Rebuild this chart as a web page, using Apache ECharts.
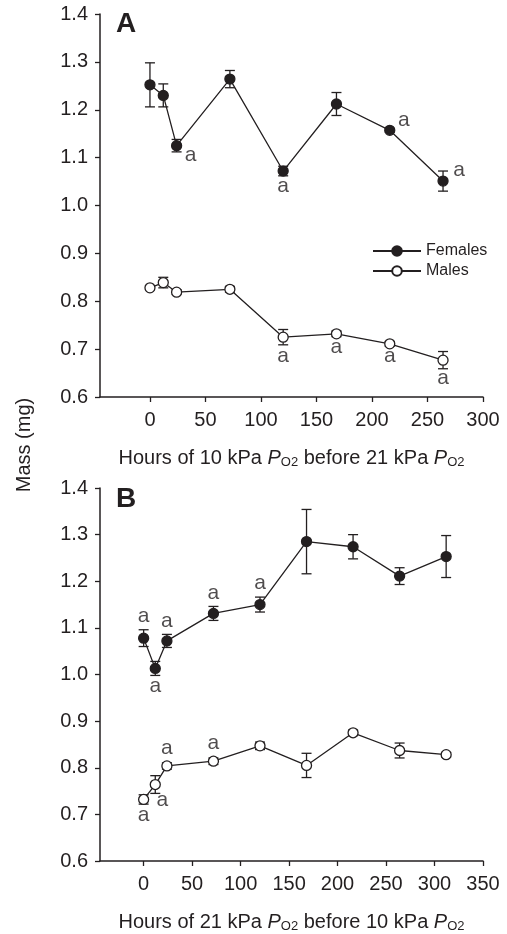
<!DOCTYPE html>
<html>
<head>
<meta charset="utf-8">
<script src="https://cdn.jsdelivr.net/npm/echarts@6/dist/echarts.min.js"></script>
<style>
  html, body { margin: 0; padding: 0; background: #fff; }
  #chart { width: 507px; height: 934px; }
</style>
</head>
<body>
<div id="chart"></div>
<script>
// panel A: hours of 10 kPa before 21 kPa
var hoursA = [0, 12, 24, 72, 120, 168, 216, 264];
var femalesA = [1.252, 1.230, 1.125, 1.264, 1.072, 1.212, 1.157, 1.051];
var femalesAErr = [0.046, 0.024, 0.013, 0.018, 0.010, 0.024, 0.004, 0.021];
var malesA = [0.828, 0.839, 0.819, 0.825, 0.725, 0.732, 0.711, 0.677];
var malesAErr = [0.004, 0.011, 0.005, 0.006, 0.016, 0.006, 0.005, 0.018];
var femalesASig = [0, 0, 1, 0, 1, 0, 1, 1];
var malesASig = [0, 0, 0, 0, 1, 1, 1, 1];

// panel B: hours of 21 kPa before 10 kPa
var hoursB = [0, 12, 24, 72, 120, 168, 216, 264, 312];
var femalesB = [1.078, 1.013, 1.072, 1.131, 1.150, 1.285, 1.274, 1.211, 1.253];
var femalesBErr = [0.018, 0.015, 0.014, 0.015, 0.016, 0.069, 0.026, 0.018, 0.045];
var malesB = [0.732, 0.764, 0.804, 0.814, 0.847, 0.805, 0.875, 0.837, 0.828];
var malesBErr = [0.010, 0.019, 0.007, 0.007, 0.008, 0.026, 0.006, 0.016, 0.005];
var femalesBSig = [1, 1, 1, 1, 1, 0, 0, 0, 0];
var malesBSig = [1, 1, 1, 1, 0, 0, 0, 0, 0];

var yTicks = [0.6, 0.7, 0.8, 0.9, 1.0, 1.1, 1.2, 1.3, 1.4];
var xTicksA = [0, 50, 100, 150, 200, 250, 300];
var xTicksB = [0, 50, 100, 150, 200, 250, 300, 350];

// where each "a" sits relative to its point (px)
var offFA = [null, null, [14, 10], null, [0, 15], null, [14, -10], [16, -11]];
var offMA = [null, null, null, null, [0, 19], [0, 13], [0, 12], [0, 18]];
var offFB = [[0, -22], [0, 18], [0, -20], [0, -20], [0, -21], null, null, null, null];
var offMB = [[0, 16], [7, 16], [0, -18], [0, -18], null, null, null, null, null];

var ink = "#231f20";
var font = "Liberation Sans, Arial, Helvetica, sans-serif";

var chart = echarts.init(document.getElementById("chart"));

function pairs(xs, ys) {
  return xs.map(function (x, i) { return [x, ys[i]]; });
}
function errData(xs, ys, es) {
  return xs.map(function (x, i) { return [x, ys[i], es[i]]; });
}
function sigData(xs, ys, sig, off) {
  var out = [];
  xs.forEach(function (x, i) {
    if (sig[i]) {
      out.push({ value: [x, ys[i]], label: { offset: off[i] } });
    }
  });
  return out;
}

function renderErr(params, api) {
  var x = api.value(0), y = api.value(1), e = api.value(2);
  var top = api.coord([x, y + e]);
  var bot = api.coord([x, y - e]);
  var w = 5;
  var st = { stroke: ink, lineWidth: 1.3 };
  return {
    type: "group",
    children: [
      { type: "line", shape: { x1: top[0], y1: top[1], x2: bot[0], y2: bot[1] }, style: st },
      { type: "line", shape: { x1: top[0] - w, y1: top[1], x2: top[0] + w, y2: top[1] }, style: st },
      { type: "line", shape: { x1: bot[0] - w, y1: bot[1], x2: bot[0] + w, y2: bot[1] }, style: st },
    ],
  };
}

function xAxisOf(idx, max, ticks, title) {
  return {
    type: "value",
    gridIndex: idx,
    min: -45,
    max: max,
    splitLine: { show: false },
    axisLine: { onZero: false, lineStyle: { color: ink, width: 1.5 } },
    axisTick: { customValues: ticks, length: 5, lineStyle: { color: ink, width: 1.3 } },
    axisLabel: { customValues: ticks, margin: 13, color: ink, fontSize: 20, fontFamily: font },
    name: title,
    nameLocation: "middle",
    nameGap: 50,
    nameTextStyle: {
      color: ink,
      fontSize: 20,
      fontFamily: font,
      rich: {
        i: { fontStyle: "italic", fontSize: 20, fontFamily: font, color: ink },
        s: { fontSize: 13, fontFamily: font, color: ink, padding: [9, 0, 0, 0] },
      },
    },
  };
}

function yAxisOf(idx) {
  return {
    type: "value",
    gridIndex: idx,
    min: 0.6,
    max: 1.4,
    interval: 0.1,
    splitLine: { show: false },
    axisLine: { show: true, onZero: false, lineStyle: { color: ink, width: 1.5 } },
    axisTick: { show: true, length: 5, lineStyle: { color: ink, width: 1.3 } },
    axisLabel: {
      margin: 12,
      color: ink,
      fontSize: 20,
      fontFamily: font,
      formatter: function (v) { return v.toFixed(1); },
    },
  };
}

function lineSeries(name, idx, data, filled) {
  return {
    name: name,
    type: "line",
    xAxisIndex: idx,
    yAxisIndex: idx,
    data: data,
    symbol: "circle",
    symbolSize: 10,
    showSymbol: true,
    z: 5,
    lineStyle: { color: ink, width: 1.3 },
    itemStyle: { color: filled ? ink : "#fff", borderColor: ink, borderWidth: 1.3 },
    emphasis: { disabled: true },
  };
}

function errSeries(idx, data) {
  return {
    type: "custom",
    xAxisIndex: idx,
    yAxisIndex: idx,
    renderItem: renderErr,
    encode: { x: 0, y: 1 },
    data: data,
    z: 3,
    silent: true,
  };
}

function sigSeries(idx, data) {
  return {
    type: "scatter",
    xAxisIndex: idx,
    yAxisIndex: idx,
    data: data,
    symbolSize: 1,
    itemStyle: { color: "rgba(0,0,0,0)" },
    z: 6,
    silent: true,
    label: {
      show: true,
      position: "inside",
      formatter: "a",
      color: ink,
      fontSize: 21,
      fontFamily: font,
    },
  };
}

var option = {
  animation: false,
  backgroundColor: "#fff",
  textStyle: { fontFamily: font, color: ink },
  grid: [
    { left: 100, top: 14, width: 383, height: 383 },
    { left: 100, top: 488, width: 383, height: 383 },
  ],
  xAxis: [
    xAxisOf(0, 300, xTicksA, "Hours of 10 kPa {i|P}{s|O2} before 21 kPa {i|P}{s|O2}"),
    xAxisOf(1, 350, xTicksB, "Hours of 21 kPa {i|P}{s|O2} before 10 kPa {i|P}{s|O2}"),
  ],
  yAxis: [yAxisOf(0), yAxisOf(1)],
  legend: {
    data: ["Females", "Males"],
    orient: "vertical",
    left: 367,
    top: 238,
    itemWidth: 48,
    itemHeight: 12,
    itemGap: 4,
    textStyle: { color: ink, fontSize: 16, fontFamily: font },
    selectedMode: false,
  },
  graphic: [
    {
      type: "text",
      left: 116,
      top: 10,
      style: { text: "A", font: "bold 28px " + font, fill: ink },
    },
    {
      type: "text",
      left: 116,
      top: 485,
      style: { text: "B", font: "bold 28px " + font, fill: ink },
    },
    {
      type: "text",
      x: 24,
      y: 445,
      rotation: Math.PI / 2,
      style: {
        text: "Mass (mg)",
        font: "20px " + font,
        fill: ink,
        align: "center",
        verticalAlign: "middle",
      },
    },
  ],
  series: [
    errSeries(0, errData(hoursA, femalesA, femalesAErr)),
    errSeries(0, errData(hoursA, malesA, malesAErr)),
    lineSeries("Females", 0, pairs(hoursA, femalesA), true),
    lineSeries("Males", 0, pairs(hoursA, malesA), false),
    sigSeries(0, sigData(hoursA, femalesA, femalesASig, offFA)),
    sigSeries(0, sigData(hoursA, malesA, malesASig, offMA)),

    errSeries(1, errData(hoursB, femalesB, femalesBErr)),
    errSeries(1, errData(hoursB, malesB, malesBErr)),
    lineSeries("Females", 1, pairs(hoursB, femalesB), true),
    lineSeries("Males", 1, pairs(hoursB, malesB), false),
    sigSeries(1, sigData(hoursB, femalesB, femalesBSig, offFB)),
    sigSeries(1, sigData(hoursB, malesB, malesBSig, offMB)),
  ],
};

chart.setOption(option);
</script>
</body>
</html>
